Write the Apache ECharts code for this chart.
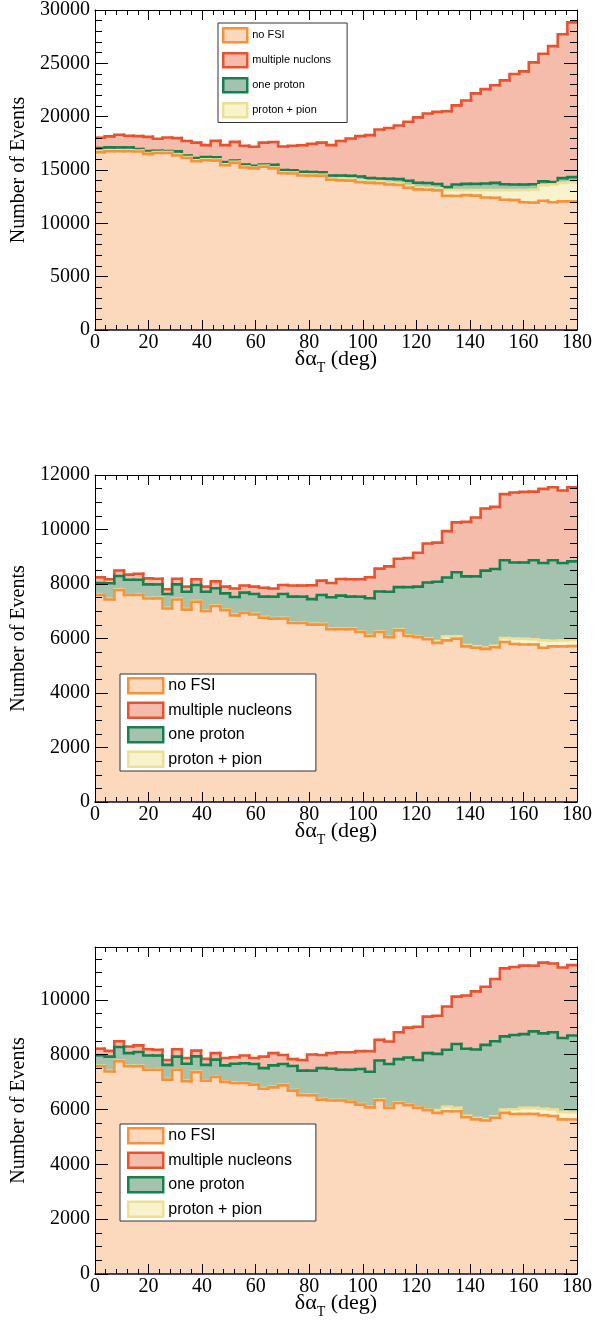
<!DOCTYPE html>
<html><head><meta charset="utf-8">
<script src="https://cdn.jsdelivr.net/npm/echarts@6/dist/echarts.min.js"></script>
<style>html,body{margin:0;padding:0;background:#fff}#c{width:616px;height:1331px}</style>
</head><body><div id="c"></div><script>
// ---------- data ----------
const binWidthDeg = 3.6;            // 50 bins over 0..180 deg
const xMin = 0, xMax = 180, xInterval = 20;

// Panel 1
const p1NoFSI = [16670,16760,16760,16760,16730,16510,16600,16600,16360,16120,15820,15910,15880,15450,15670,15240,15150,15300,15150,14700,14670,14480,14480,14450,14090,14030,14000,13850,13790,13760,13640,13600,13330,13180,13150,13090,12570,12570,12640,12600,12420,12390,12210,12180,11970,11940,12120,11970,12060,12060];
const p1ProtonPion = [90,90,90,90,90,90,90,90,90,90,90,90,90,90,90,90,90,90,90,90,90,90,90,90,90,180,180,180,180,180,180,180,180,180,180,180,550,550,480,520,700,730,910,940,1150,1210,1450,1670,1730,1790];
const p1OneProton = [300,270,270,270,150,180,120,90,300,150,210,210,210,210,120,180,150,120,240,210,210,270,240,240,300,270,270,360,270,270,360,360,480,450,450,420,270,520,580,580,610,670,550,520,520,520,360,240,450,480];
const p1Multi = [970,1030,1180,1090,1210,1330,1120,1270,1240,1360,1450,1120,1550,1580,1760,1760,1790,2060,2150,2210,2300,2480,2640,2790,2850,3240,3510,3790,4030,4580,4760,5030,5540,6120,6510,6760,7120,7420,7820,8480,8850,9150,9730,10360,10610,11420,11970,12730,13480,14510];

// Panel 2
const p2NoFSI = [7600,7430,7780,7600,7600,7470,7470,7100,7430,7060,7350,7010,7190,7040,6850,6940,6880,6760,6730,6730,6570,6570,6510,6510,6340,6340,6340,6240,6090,6240,6050,6300,6090,6050,5970,5840,5930,5990,5710,5660,5620,5680,5870,5800,5780,5780,5660,5710,5710,5720];
const p2ProtonPion = [25,25,25,25,25,25,25,25,25,25,25,25,25,25,25,25,25,25,25,25,25,25,25,25,25,25,25,25,25,25,25,25,25,25,25,70,150,90,50,50,50,50,150,200,210,190,270,210,220,230];
const p2OneProton = [410,570,490,530,530,490,490,510,530,630,590,680,630,590,650,720,730,750,780,880,940,940,910,1060,1150,1210,1170,1270,1360,1460,1640,1560,1770,1830,2060,2170,2160,2350,2520,2570,2820,2820,2850,2790,2800,2900,2840,2950,2840,2880];
const p2Multi = [210,150,200,190,220,220,210,170,210,190,210,190,250,250,310,260,270,330,300,330,410,410,510,530,520,610,640,640,770,840,930,1040,1070,1240,1430,1440,1700,1830,2000,2160,2280,2280,2430,2570,2590,2520,2720,2680,2660,2720];

// Panel 3
const p3NoFSI = [7580,7390,7760,7580,7580,7450,7450,7090,7450,7030,7360,7050,7190,7010,6970,6970,6910,6760,6810,6880,6690,6520,6520,6360,6330,6330,6280,6180,6080,6340,6060,6240,6160,6060,5980,5880,5940,5940,5720,5640,5600,5700,5880,5840,5840,5840,5790,5760,5640,5640];
const p3ProtonPion = [20,20,20,20,20,20,20,20,20,20,20,20,20,20,20,20,20,20,20,20,20,20,20,20,20,20,20,20,20,20,20,20,20,20,20,100,160,120,50,50,50,50,120,170,220,220,240,240,270,250];
const p3OneProton = [380,520,500,460,500,500,500,520,460,620,560,560,610,580,680,700,730,730,780,760,880,880,880,1130,1140,1100,1150,1280,1280,1430,1580,1580,1720,1730,2060,2050,2080,2330,2450,2500,2710,2740,2670,2710,2690,2790,2750,2820,2700,2810];
const p3Multi = [240,210,210,240,240,230,210,180,270,210,210,220,240,270,240,280,220,420,450,330,250,390,590,480,570,640,640,650,750,750,820,980,1090,1210,1330,1390,1580,1730,1940,2120,2120,2270,2480,2480,2500,2400,2580,2510,2570,2570];

// y-axis scales
const p1YMax = 30000, p1YInterval = 5000;
const p2YMax = 12000, p2YInterval = 2000;
const p3YMax = 11930, p3YInterval = 2000;

// names
const nameNoFSI = 'no FSI';
const nameMultiP1 = 'multiple nuclons';
const nameMulti = 'multiple nucleons';
const nameOneProton = 'one proton';
const nameProtonPion = 'proton + pion';
const xTitle = '{a|δα}{s|T}{a| (deg)}';
const yTitle = 'Number of Events';

// ---------- styles ----------
const styleNoFSI = {line:'#f5923e', fill:'#fcd8bd'};
const stylePP    = {line:'#ebe196', fill:'#f8f2cd'};
const styleOP    = {line:'#18804c', fill:'#a4c3ae'};
const styleMN    = {line:'#e8522f', fill:'#f5bbab'};

const serif = "'Liberation Serif','Times New Roman',serif";
const sans = "'Liberation Sans',Arial,sans-serif";
const GW = 482, GH = 327;

const panels = [
  {top:3, ymax:p1YMax, yint:p1YInterval, ysplit:5,
   layers:[p1NoFSI,p1ProtonPion,p1OneProton,p1Multi],
   names:[nameNoFSI,nameProtonPion,nameOneProton,nameMultiP1],
   legend:{left:218, top:23, fontSize:11, itemWidth:24, itemHeight:14, itemGap:8.5, padding:[4,16,4,4],
           order:[nameNoFSI,nameMultiP1,nameOneProton,nameProtonPion]}},
  {top:475, ymax:p2YMax, yint:p2YInterval, ysplit:4,
   layers:[p2NoFSI,p2ProtonPion,p2OneProton,p2Multi],
   names:[nameNoFSI,nameProtonPion,nameOneProton,nameMulti],
   legend:{left:120, top:674, fontSize:16, itemWidth:35, itemHeight:15, itemGap:7, padding:[3,24,3,7],
           order:[nameNoFSI,nameMulti,nameOneProton,nameProtonPion]}},
  {top:947, ymax:p3YMax, yint:p3YInterval, ysplit:4,
   layers:[p3NoFSI,p3ProtonPion,p3OneProton,p3Multi],
   names:[nameNoFSI,nameProtonPion,nameOneProton,nameMulti],
   legend:{left:120, top:1124, fontSize:16, itemWidth:35, itemHeight:15, itemGap:7, padding:[3,24,3,7],
           order:[nameNoFSI,nameMulti,nameOneProton,nameProtonPion]}}
];
const layerStyles = [styleNoFSI, stylePP, styleOP, styleMN];

const grid=[], xAxis=[], yAxis=[], series=[], legend=[];
const tickLine = {color:'#000', width:1};
panels.forEach((p, gi) => {
  grid.push({left:95, top:p.top, width:GW, height:GH});
  const xBase = {type:'value', gridIndex:gi, zlevel:1, z:10, min:xMin, max:xMax, interval:xInterval,
    splitLine:{show:false},
    axisTick:{show:true, inside:true, length:10, lineStyle:tickLine},
    minorTick:{show:true, splitNumber:5, length:5, lineStyle:tickLine}};
  const yBase = {type:'value', gridIndex:gi, zlevel:1, z:10, min:0, max:p.ymax, interval:p.yint,
    splitLine:{show:false},
    axisTick:{show:true, inside:true, length:13, lineStyle:tickLine},
    minorTick:{show:true, splitNumber:p.ysplit, length:7, lineStyle:tickLine}};
  xAxis.push(Object.assign({}, xBase, {position:'bottom',
    axisLine:{show:true, onZero:false, lineStyle:{color:'#0a0a30', width:1.6}},
    axisLabel:{fontFamily:serif, fontSize:20, color:'#000', margin:3},
    name:xTitle, nameLocation:'middle', nameGap:13, nameMoveOverlap:false,
    nameTextStyle:{rich:{a:{fontFamily:serif, fontSize:22, color:'#000', lineHeight:32},
                         s:{fontFamily:serif, fontSize:14, color:'#000', lineHeight:14, verticalAlign:'bottom'}}}
  }));
  xAxis.push(Object.assign({}, xBase, {position:'top',
    axisLine:{show:true, onZero:false, lineStyle:tickLine}, axisLabel:{show:false}}));
  yAxis.push(Object.assign({}, yBase, {position:'left',
    axisLine:{show:true, onZero:false, lineStyle:tickLine},
    axisLabel:{fontFamily:serif, fontSize:20, color:'#000', margin:5, showMaxLabel: p.ymax % p.yint === 0,
               formatter:v=>String(v)},
    name:yTitle, nameLocation:'middle', nameGap:66, nameRotate:90, nameMoveOverlap:false,
    nameTextStyle:{fontFamily:serif, fontSize:20, color:'#000'}
  }));
  yAxis.push(Object.assign({}, yBase, {position:'right',
    axisLine:{show:true, onZero:false, lineStyle:tickLine}, axisLabel:{show:false}}));

  const layers = p.layers;
  const cum = (L, k) => { let s = 0; for (let j = 0; j <= L; j++) s += layers[j][k]; return s; };
  layers.forEach((arr, L) => {
    const st = layerStyles[L];
    series.push({
      type:'custom', name:p.names[L], xAxisIndex:gi*2, yAxisIndex:gi*2, z: 6 - L, clip:true,
      itemStyle:{color:st.fill, borderColor:st.line},
      data: arr.map((v, k) => [k*binWidthDeg, (k+1)*binWidthDeg, v]),
      renderItem:(params, api) => {
        const k = params.dataIndex;
        const upper = cum(L, k);
        const lower = upper - layers[L][k];
        const x0 = api.value(0), x1 = api.value(1);
        const a = api.coord([x0, lower]);
        const b = api.coord([x1, upper]);
        const pts = [];
        if (k > 0) { const c = api.coord([x0, cum(L, k-1)]); pts.push([a[0], c[1]]); }
        pts.push([a[0], b[1]]); pts.push([b[0], b[1]]);
        return {type:'group', children:[
          {type:'rect', shape:{x:a[0], y:b[1], width:b[0]-a[0]+0.7, height:a[1]-b[1]},
           style:{fill:st.fill}, z2:0},
          {type:'polyline', shape:{points:pts},
           style:{stroke:st.line, lineWidth:2.6, fill:null, lineCap:'square', lineJoin:'miter'}, z2:5}
        ]};
      }
    });
  });

  const lg = p.legend;
  const styleFor = n => n===nameNoFSI?styleNoFSI:(n===nameProtonPion?stylePP:(n===nameOneProton?styleOP:styleMN));
  legend.push({
    zlevel:2, z:20, orient:'vertical', left:lg.left, top:lg.top, padding:lg.padding,
    itemWidth:lg.itemWidth, itemHeight:lg.itemHeight, itemGap:lg.itemGap,
    backgroundColor:'#fff', borderColor:'#333', borderWidth:1, borderRadius:0,
    selectedMode:false, icon:'rect',
    textStyle:{fontFamily:sans, fontSize:lg.fontSize, color:'#000'},
    data: lg.order.map(n => ({name:n, icon:'rect',
      itemStyle:{color:styleFor(n).fill, borderColor:styleFor(n).line, borderWidth:2.5}}))
  });
});

const chart = echarts.init(document.getElementById('c'), null, {renderer:'canvas'});
chart.setOption({animation:false, backgroundColor:'#fff', grid, xAxis, yAxis, series, legend});
</script></body></html>
